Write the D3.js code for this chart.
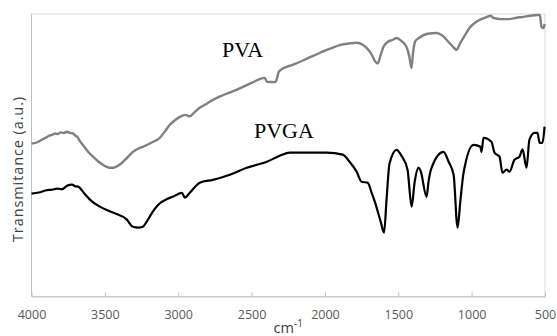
<!DOCTYPE html>
<html>
<head>
<meta charset="utf-8">
<script src="https://cdn.jsdelivr.net/npm/d3@7"></script>
<style>
  body { margin: 0; background: #fff; }
  svg { display: block; }
</style>
</head>
<body>
<div id="chart"></div>
<script>
// FTIR spectra (arbitrary transmittance units)
const xTicks = [4000, 3500, 3000, 2500, 2000, 1500, 1000, 500];

const pvaWn = [4000, 3960, 3930, 3900, 3880, 3860, 3840, 3820, 3800, 3780, 3758, 3740, 3720, 3700, 3690,
  3670, 3640, 3610, 3581, 3540, 3500, 3470, 3440, 3400, 3360, 3309, 3270, 3241, 3180, 3125, 3090, 3057,
  3020, 2989, 2950, 2921, 2890, 2853, 2800, 2764, 2737, 2600, 2500, 2410, 2395, 2340, 2329, 2315, 2290,
  2220, 2130, 2036, 1960, 1900, 1830, 1784, 1740, 1716, 1680, 1655, 1640, 1620, 1600, 1570, 1540, 1512,
  1480, 1444, 1425, 1410, 1400, 1385, 1360, 1300, 1239, 1200, 1157, 1120, 1103, 1080, 1040, 1014, 960,
  899, 870, 851, 800, 742, 700, 647, 600, 558, 535, 524, 510, 503];
const pvaT = [54.1, 54.6, 55.5, 56.3, 56.9, 57.2, 57.7, 57.5, 58.1, 57.9, 58.3, 57.9, 57.8, 56.9, 56.6,
  55.0, 53.0, 51.0, 49.5, 47.6, 46.2, 45.6, 45.6, 46.6, 48.5, 51.2, 52.4, 53.0, 54.5, 56.2, 58.5, 60.8,
  62.5, 63.6, 64.3, 63.8, 65.2, 66.8, 68.4, 69.6, 70.3, 73.2, 75.6, 77.4, 76.0, 75.9, 76.7, 79.5, 80.6,
  82.0, 84.0, 86.2, 87.8, 89.0, 89.6, 89.8, 89.0, 88.0, 85.5, 83.0, 82.5, 85.5, 88.5, 90.2, 90.8, 91.5,
  90.5, 88.3, 85.0, 80.9, 86.0, 90.3, 91.5, 93.0, 93.3, 92.4, 90.1, 88.0, 87.3, 89.5, 93.0, 95.1, 97.5,
  98.9, 99.4, 98.6, 98.2, 98.2, 98.6, 99.0, 99.4, 99.6, 99.7, 95.4, 95.0, 96.5];

const pvgaWn = [4000, 3950, 3900, 3860, 3826, 3790, 3758, 3724, 3700, 3683, 3640, 3602, 3534, 3445, 3350,
  3309, 3270, 3241, 3215, 3194, 3160, 3125, 3077, 3037, 2975, 2955, 2921, 2853, 2764, 2700, 2648, 2533,
  2396, 2308, 2240, 2124, 1988, 1879, 1832, 1784, 1750, 1709, 1680, 1658, 1620, 1597, 1580, 1560, 1512,
  1478, 1437, 1409, 1389, 1362, 1348, 1307, 1294, 1273, 1192, 1157, 1123, 1096, 1076, 1055, 987, 940,
  933, 919, 865, 844, 810, 790, 762, 742, 708, 674, 653, 626, 606, 572, 551, 537, 517, 503];
const pvgaT = [36.4, 36.8, 37.6, 37.8, 38.2, 38.0, 39.2, 39.6, 39.0, 38.9, 36.5, 34.3, 31.8, 29.7, 27.2,
  24.7, 24.4, 24.7, 26.5, 28.3, 31.0, 33.0, 34.5, 35.3, 36.7, 35.0, 36.7, 40.3, 41.3, 42.2, 43.1, 45.6,
  47.7, 49.8, 50.9, 50.9, 50.9, 50.2, 47.7, 44.2, 40.6, 40.3, 36.5, 33.2, 26.5, 22.6, 34.3, 47.0, 51.9,
  49.8, 44.9, 31.8, 40.3, 45.6, 44.5, 35.3, 40.6, 45.6, 51.2, 47.7, 43.1, 24.4, 34.3, 43.8, 53.7, 53.0,
  51.2, 56.2, 54.8, 50.9, 49.5, 43.8, 44.9, 44.2, 48.4, 49.5, 52.1, 45.6, 55.5, 57.9, 57.9, 54.4, 54.4, 60.1];

const width = 557, height = 336;
const margin = { top: 14, right: 12, bottom: 39.5, left: 31.5 };

const svg = d3.select('#chart')
  .append('svg')
  .attr('width', width)
  .attr('height', height);

const x = d3.scaleLinear()
  .domain([4000, 500])
  .range([margin.left, width - margin.right]);

const y = d3.scaleLinear()
  .domain([0, 100])
  .range([height - margin.bottom, margin.top]);

// plot area border (top / right)
svg.append('rect')
  .attr('x', margin.left)
  .attr('y', margin.top)
  .attr('width', width - margin.right - margin.left)
  .attr('height', height - margin.bottom - margin.top)
  .attr('fill', 'none')
  .attr('stroke', '#d9d9d9')
  .attr('stroke-width', 1);

// left axis line, no ticks
svg.append('line')
  .attr('x1', margin.left).attr('x2', margin.left)
  .attr('y1', margin.top).attr('y2', height - margin.bottom)
  .attr('stroke', '#bfbfbf');

// bottom axis, ticks pointing inside
const xAxis = svg.append('g')
  .attr('transform', `translate(0,${height - margin.bottom})`)
  .call(d3.axisBottom(x).tickValues(xTicks).tickFormat(d3.format('d'))
    .tickSize(-4).tickSizeOuter(0).tickPadding(14));
xAxis.select('.domain').attr('stroke', '#bfbfbf');
xAxis.selectAll('.tick line').attr('stroke', '#bfbfbf');
xAxis.selectAll('.tick text')
  .attr('fill', '#595959')
  .style('font-family', '"Open Sans", sans-serif')
  .style('font-size', '12.5px');

const line = d3.line()
  .curve(d3.curveMonotoneX)
  .x(d => x(d[0]))
  .y(d => y(d[1]));

svg.append('path')
  .datum(d3.zip(pvaWn, pvaT))
  .attr('d', line)
  .attr('fill', 'none')
  .attr('stroke', '#808080')
  .attr('stroke-width', 2.4)
  .attr('stroke-linejoin', 'round');

svg.append('path')
  .datum(d3.zip(pvgaWn, pvgaT))
  .attr('d', line)
  .attr('fill', 'none')
  .attr('stroke', '#000')
  .attr('stroke-width', 2.2)
  .attr('stroke-linejoin', 'round');

// series labels
svg.append('text')
  .attr('x', 222).attr('y', 57)
  .style('font-family', '"Liberation Serif", "Times New Roman", serif')
  .style('font-size', '22px')
  .text('PVA');

svg.append('text')
  .attr('x', 254).attr('y', 138)
  .style('font-family', '"Liberation Serif", "Times New Roman", serif')
  .style('font-size', '22px')
  .text('PVGA');

// axis titles
const xTitle = svg.append('text')
  .attr('x', (margin.left + width - margin.right) / 2)
  .attr('y', 333)
  .attr('text-anchor', 'middle')
  .attr('fill', '#404040')
  .style('font-family', '"Open Sans", sans-serif')
  .style('font-size', '14.5px');
xTitle.append('tspan').text('cm');
xTitle.append('tspan').attr('dy', -6).style('font-size', '10px').text('-1');

svg.append('text')
  .attr('transform', 'translate(23,169) rotate(-90)')
  .attr('text-anchor', 'middle')
  .attr('fill', '#404040')
  .style('font-family', '"Open Sans", sans-serif')
  .style('font-size', '14.5px')
  .style('letter-spacing', '0.9px')
  .text('Transmitance (a.u.)');
</script>
</body>
</html>
